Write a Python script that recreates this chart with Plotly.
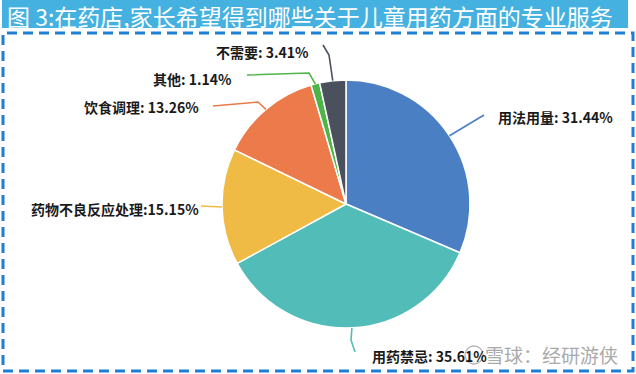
import math
import plotly.graph_objects as go

# ---- data ----
categories = ["用法用量", "用药禁忌", "药物不良反应处理", "饮食调理", "其他", "不需要"]
values = [31.44, 35.61, 15.15, 13.26, 1.14, 3.41]
label_texts = ["用法用量: 31.44%", "用药禁忌: 35.61%", "药物不良反应处理:15.15%",
               "饮食调理: 13.26%", "其他: 1.14%", "不需要: 3.41%"]
title_text = "图 3:在药店,家长希望得到哪些关于儿童用药方面的专业服务"
watermark = "雪球：经研游侠"

# ---- style ----
colors = ["#4A7FC4", "#52BDB8", "#F0BB45", "#EC7A4A", "#4DB548", "#4A515D"]
W, H = 636, 374
CX, CY, R = 346, 204, 124

# label layout: (elbow point or None, end point, label anchor x, label y, xanchor)
label_layout = [
    (None, (484, 115), 496, 117, "left"),
    ((351, 340), (355, 352), 370, 356, "left"),
    (None, (201, 206), 201, 209, "right"),
    ((258, 102), (213, 106), 201, 107, "right"),
    ((309, 73), (247, 75), 234, 79, "right"),
    ((329, 55), (323, 45), 311, 52, "right"),
]

def px(x):
    return x / W

def py(y):
    return 1 - y / H

fig = go.Figure()
fig.add_trace(go.Pie(
    labels=categories, values=values, sort=False, direction="clockwise",
    rotation=0, marker=dict(colors=colors, line=dict(color="white", width=1.5)),
    textinfo="none", hoverinfo="label+percent", showlegend=False,
    domain=dict(x=[px(CX - R), px(CX + R)], y=[py(CY + R), py(CY - R)]),
))

shapes = []
annotations = []
total = sum(values)
cum = 0.0
for v, col, txt, lay in zip(values, colors, label_texts, label_layout):
    mid = (cum + v / 2) / total * 2 * math.pi
    cum += v
    ex = CX + R * math.sin(mid)
    ey = CY - R * math.cos(mid)
    elbow, end, lx, ly, xa = lay
    pts = [(ex, ey)] + ([elbow] if elbow else []) + [end]
    path = "M " + " L ".join(f"{px(a):.5f},{py(b):.5f}" for a, b in pts)
    shapes.append(dict(type="path", path=path, xref="paper", yref="paper",
                       line=dict(color=col, width=1.6)))
    annotations.append(dict(text=txt, x=px(lx), y=py(ly), xref="paper", yref="paper",
                            xanchor=xa, yanchor="middle", showarrow=False,
                            font=dict(family="Noto Sans CJK SC", size=14, color="#1a1a1a",
                                      weight=600)))

# title bar
shapes.insert(0, dict(type="rect", xref="paper", yref="paper", x0=px(2), x1=px(628),
                      y0=py(28), y1=py(0), fillcolor="#45B1E0", line=dict(width=0), layer="below"))
# dashed frame
shapes.append(dict(type="rect", xref="paper", yref="paper", x0=px(3), x1=px(633),
                   y0=py(371), y1=py(33), line=dict(color="#1F7FD3", width=3, dash="10px,6px")))
# watermark logo ring
shapes.append(dict(type="circle", xref="paper", yref="paper", x0=px(465), x1=px(483),
                   y0=py(364), y1=py(346), line=dict(color="#B5B5B5", width=1.3)))

annotations.append(dict(text=title_text, x=px(5), y=py(16), xref="paper", yref="paper",
                        xanchor="left", yanchor="middle", showarrow=False,
                        font=dict(family="Noto Sans CJK SC", size=23, color="white")))
annotations.append(dict(text=watermark, x=px(620), y=py(354), xref="paper", yref="paper",
                        xanchor="right", yanchor="middle", showarrow=False,
                        font=dict(family="Noto Sans CJK SC", size=19, color="#AAAAAA")))

fig.update_layout(width=W, height=H, margin=dict(l=0, r=0, t=0, b=0),
                  paper_bgcolor="white", plot_bgcolor="white",
                  shapes=shapes, annotations=annotations)
fig.write_html("out.html", config={"displayModeBar": False},
               post_script="document.body.style.margin='0px';document.body.style.overflow='hidden';")
